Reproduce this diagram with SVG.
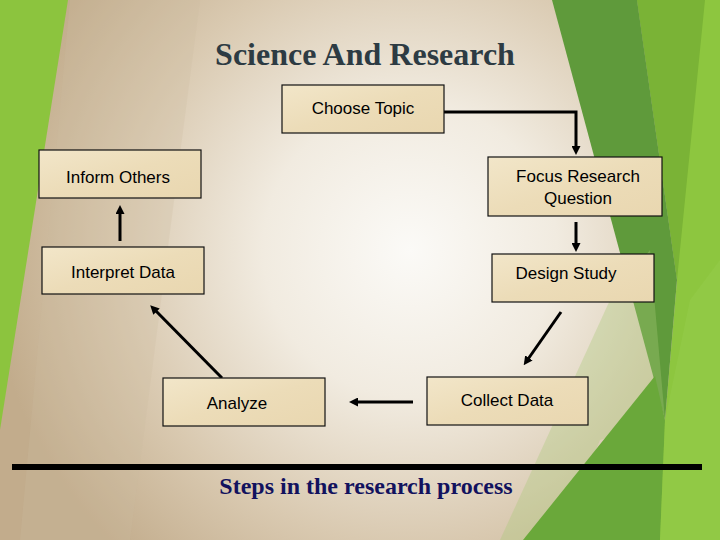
<svg xmlns="http://www.w3.org/2000/svg" width="720" height="540" viewBox="0 0 720 540">
<defs>
<radialGradient id="bg" cx="410" cy="250" r="420" gradientUnits="userSpaceOnUse">
<stop offset="0" stop-color="#fbfaf7"/>
<stop offset="0.35" stop-color="#f1ebe0"/>
<stop offset="0.7" stop-color="#d9c9b0"/>
<stop offset="1" stop-color="#c2ac8c"/>
</radialGradient>
<linearGradient id="box" x1="0" y1="0" x2="1" y2="1">
<stop offset="0" stop-color="#f2e6c9"/>
<stop offset="0.5" stop-color="#ecdcb8"/>
<stop offset="1" stop-color="#e9d7b0"/>
</linearGradient>
<marker id="ah" markerUnits="userSpaceOnUse" markerWidth="9" markerHeight="9" refX="5" refY="4.5" orient="auto">
<path d="M0,0 L9,4.5 L0,9 z" fill="#000"/>
</marker>
</defs>
<style>
.node rect{fill:url(#box);stroke:#111;stroke-width:1.2}
.node text{font-family:"Liberation Sans",Arial,sans-serif;font-size:17px;fill:#000;text-anchor:middle}
.conn{stroke:#000;stroke-width:3;fill:none;marker-end:url(#ah)}
.title{font-family:"Liberation Serif","Times New Roman",serif;font-weight:bold;text-anchor:middle}
</style>
<g id="background">
<rect x="0" y="0" width="720" height="540" fill="url(#bg)"/>
<polygon points="70,0 200,0 130,540 20,540" fill="#cdbba0" opacity="0.25"/>
<polygon points="0,0 68,0 0,430" fill="#8cc43e"/>
<polygon points="637,0 720,0 720,540 600,540 665,420 677,280" fill="#8dc63f"/>
<polygon points="637,0 705,0 677,280" fill="#7ab336"/>
<polygon points="552,0 637,0 677,280 665,420" fill="#5f9a3b"/>
<polygon points="610,300 650,250 665,420 600,440 560,540 500,540" fill="#a8c878" opacity="0.35"/>
<polygon points="523,540 655,376 665,420 660,540" fill="#6aa83a"/>
<polygon points="690,300 720,260 720,540 660,540 665,420" fill="#95cb4a" opacity="0.6"/>
</g>
<text class="title" x="365" y="65" font-size="32" fill="#2d3b43">Science And Research</text>
<g id="connectors">
<polyline class="conn" points="444,112 576,112 576,151"/>
<line class="conn" x1="576" y1="222" x2="576" y2="248"/>
<line class="conn" x1="561" y1="312" x2="526" y2="362"/>
<line class="conn" x1="413" y1="402" x2="353" y2="402"/>
<line class="conn" x1="222" y1="378" x2="153" y2="308"/>
<line class="conn" x1="120" y1="241" x2="120" y2="209"/>
</g>
<g id="choose-topic" class="node"><rect x="282" y="85" width="162" height="48"/><text x="363" y="114">Choose Topic</text></g>
<g id="focus-research-question" class="node"><rect x="488" y="157" width="174" height="59"/><text x="578" y="182">Focus Research</text><text x="578" y="204">Question</text></g>
<g id="design-study" class="node"><rect x="492" y="254" width="162" height="48"/><text x="566" y="279">Design Study</text></g>
<g id="collect-data" class="node"><rect x="427" y="377" width="161" height="48"/><text x="507" y="406">Collect Data</text></g>
<g id="analyze" class="node"><rect x="163" y="378" width="162" height="48"/><text x="237" y="409">Analyze</text></g>
<g id="interpret-data" class="node"><rect x="42" y="247" width="162" height="47"/><text x="123" y="278">Interpret Data</text></g>
<g id="inform-others" class="node"><rect x="39" y="150" width="162" height="48"/><text x="118" y="183">Inform Others</text></g>
<line x1="12" y1="467" x2="702" y2="467" stroke="#000" stroke-width="6"/>
<text class="title" x="366" y="494" font-size="24" fill="#12125e">Steps in the research process</text>
</svg>
